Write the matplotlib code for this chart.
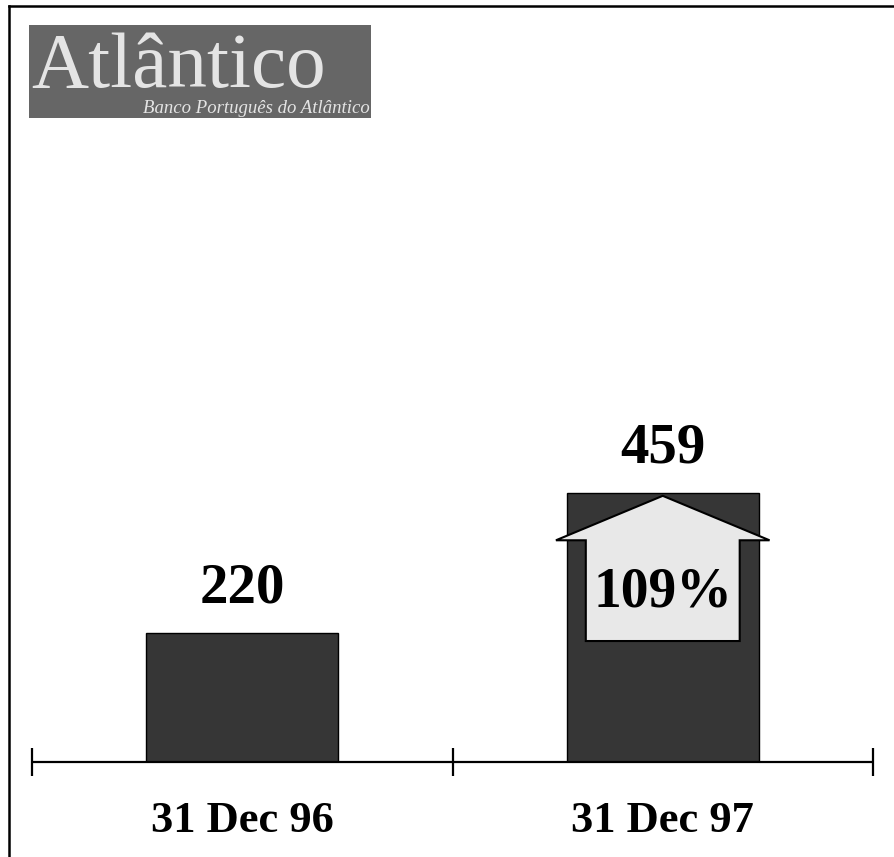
import matplotlib
matplotlib.use('Agg')
import matplotlib.pyplot as plt
from matplotlib.patches import Rectangle, Polygon
from matplotlib.lines import Line2D

# data
categories = ["31 Dec 96", "31 Dec 97"]
values = [220, 459]
growth = round((values[1] / values[0] - 1) * 100)

bar_color = "#363636"
arrow_color = "#e8e8e8"
serif = ["Liberation Serif", "DejaVu Serif"]

W, H = 894, 857
fig = plt.figure(figsize=(W / 100, H / 100), dpi=100)

# outer frame (top and left only, the rest is cropped)
fig.add_artist(Line2D([9 / W, 1], [1 - 6 / H, 1 - 6 / H], color="black", lw=1.8))
fig.add_artist(Line2D([9 / W, 9 / W], [0, 1 - 6 / H], color="black", lw=1.8))

# logo
fig.add_artist(Rectangle((29 / W, 1 - 118 / H), 342 / W, 93 / H,
                         facecolor="#666666", edgecolor="none"))
fig.text(31 / W, 1 - 87 / H, "Atlântico", family=serif, fontsize=57,
         color="#e4e4e4", ha="left", va="baseline")
fig.text(370 / W, 1 - 113 / H, "Banco Português do Atlântico", family=serif,
         style="italic", fontsize=13.5, color="#e4e4e4", ha="right", va="baseline")

# main axes
ax = fig.add_axes([32 / W, 95 / H, 841 / W, 585 / H])
ax.set_xlim(-0.5, 1.5)
ax.set_ylim(0, 1000)
ax.patch.set_alpha(0)
for s in ["top", "left", "right"]:
    ax.spines[s].set_visible(False)
ax.spines["bottom"].set_linewidth(1.6)
ax.spines["bottom"].set_capstyle("butt")
ax.set_yticks([])

x = list(range(len(categories)))
ax.bar(x, values, width=0.457, color=bar_color, edgecolor="black", linewidth=1, zorder=2)

# category boundaries as ticks
ax.set_xticks([-0.5, 0.5, 1.5])
ax.set_xticklabels([])
ax.tick_params(axis="x", which="major", direction="inout", length=20, width=1.6)
ax.set_xticks(x, minor=True)
ax.set_xticklabels(categories, minor=True, family=serif, fontsize=32, fontweight="bold")
ax.tick_params(axis="x", which="minor", length=0, pad=28)

for xi, v in zip(x, values):
    ax.annotate(str(v), (xi, v), xytext=(0, 22), textcoords="offset points",
                ha="center", va="baseline", family=serif, fontsize=41,
                fontweight="bold", zorder=4)

# growth arrow on the second bar
cx = x[1]
shaft_hw, wing_hw = 0.183, 0.254
shaft_bottom = values[0] * 0.94
wing_y = values[1] - 80
apex_y = values[1] - 4
arrow = Polygon([(cx - shaft_hw, shaft_bottom), (cx - shaft_hw, wing_y),
                 (cx - wing_hw, wing_y), (cx, apex_y), (cx + wing_hw, wing_y),
                 (cx + shaft_hw, wing_y), (cx + shaft_hw, shaft_bottom)],
                closed=True, facecolor=arrow_color, edgecolor="black",
                linewidth=1.5, zorder=3, clip_on=False)
ax.add_patch(arrow)
ax.text(cx, (shaft_bottom + wing_y) / 2 - 3, f"{growth}%", ha="center", va="center",
        family=serif, fontsize=40, fontweight="bold", zorder=4)

plt.savefig("out.png", dpi=100)
